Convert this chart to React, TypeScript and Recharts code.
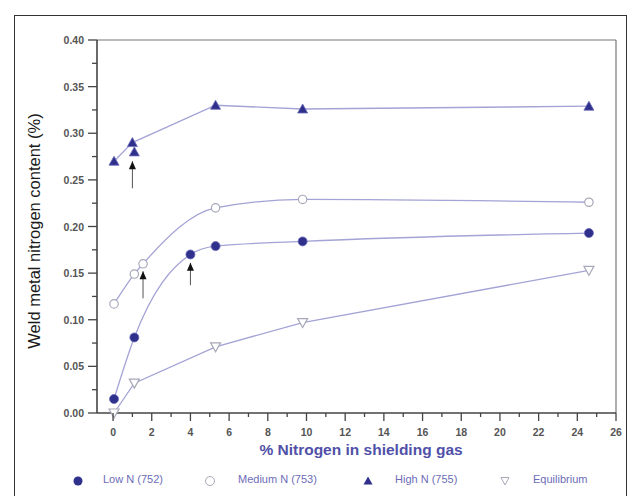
import React from "react";
import {
  ComposedChart,
  Line,
  Scatter,
  XAxis,
  YAxis,
  ReferenceLine,
} from "recharts";

// ---- data ----
const lowN = [
  { x: 0.05, y: 0.015 },
  { x: 1.1, y: 0.081 },
  { x: 4.0, y: 0.17 },
  { x: 5.3, y: 0.179 },
  { x: 9.8, y: 0.184 },
  { x: 24.6, y: 0.193 },
];
const mediumN = [
  { x: 0.05, y: 0.117 },
  { x: 1.1, y: 0.149 },
  { x: 1.55, y: 0.16 },
  { x: 5.3, y: 0.22 },
  { x: 9.8, y: 0.229 },
  { x: 24.6, y: 0.226 },
];
const highN = [
  { x: 0.05, y: 0.27 },
  { x: 1.0, y: 0.29 },
  { x: 5.3, y: 0.33 },
  { x: 9.8, y: 0.326 },
  { x: 24.6, y: 0.329 },
];
const highNExtra = [{ x: 1.1, y: 0.28 }];
const equilibrium = [
  { x: 0.05, y: 0.0 },
  { x: 1.1, y: 0.032 },
  { x: 5.3, y: 0.071 },
  { x: 9.8, y: 0.097 },
  { x: 24.6, y: 0.153 },
];
// arrows: x, tip (head) y, tail y
const arrows = [
  { x: 1.0, tip: 0.27, tail: 0.241 },
  { x: 1.55, tip: 0.152, tail: 0.123 },
  { x: 4.0, tip: 0.161, tail: 0.137 },
];
const arrowHeads = arrows.map((a) => ({ x: a.x, y: a.tip }));

const xTicks = [0, 1, 2, 3, 4, 5, 6, 7, 8, 9, 10, 11, 12, 13, 14, 15, 16, 17, 18, 19, 20, 21, 22, 23, 24, 25, 26];
const yTicks = [0, 0.025, 0.05, 0.075, 0.1, 0.125, 0.15, 0.175, 0.2, 0.225, 0.25, 0.275, 0.3, 0.325, 0.35, 0.375, 0.4];

const legendItems = [
  { name: "Low N (752)", shape: "circleFilled" },
  { name: "Medium N (753)", shape: "circleOpen" },
  { name: "High N (755)", shape: "triUp" },
  { name: "Equilibrium", shape: "triDown" },
];

// ---- styles ----
const LINE = "#a3a3d6";
const NAVY = "#2f2f8c";
const OPEN = "#a8a8b8";
const FONT = "'Liberation Sans', Arial, sans-serif";

const FilledCircle = (p: any) =>
  p.cx == null ? <g /> : <circle cx={p.cx} cy={p.cy} r={4.5} fill={NAVY} stroke="#6a6ab8" strokeWidth={0.8} />;
const OpenCircle = (p: any) =>
  p.cx == null ? <g /> : <circle cx={p.cx} cy={p.cy} r={4.2} fill="#fff" stroke={OPEN} strokeWidth={1.2} />;
const TriUp = (p: any) =>
  p.cx == null ? (
    <g />
  ) : (
    <path d={`M${p.cx},${p.cy - 5} L${p.cx + 5},${p.cy + 4} L${p.cx - 5},${p.cy + 4} Z`} fill={NAVY} stroke="#6a6ab8" strokeWidth={0.8} />
  );
const TriDown = (p: any) =>
  p.cx == null ? (
    <g />
  ) : (
    <path d={`M${p.cx - 5},${p.cy - 4} L${p.cx + 5},${p.cy - 4} L${p.cx},${p.cy + 5} Z`} fill="#fff" stroke={OPEN} strokeWidth={1.2} />
  );
const ArrowHead = (p: any) =>
  p.cx == null ? (
    <g />
  ) : (
    <path d={`M${p.cx},${p.cy} L${p.cx + 3.5},${p.cy + 8} L${p.cx - 3.5},${p.cy + 8} Z`} fill="#111" />
  );

const XTick = (p: any) => {
  const v = p.payload.value;
  const major = v % 2 === 0;
  return (
    <g>
      <line x1={p.x} x2={p.x} y1={p.y} y2={p.y + (major ? 8 : 4)} stroke="#444" strokeWidth={1.3} />
      {major && (
        <text x={p.x} y={p.y + 23} textAnchor="middle" fontSize={10.5} fontWeight="bold" fill="#555" fontFamily={FONT}>
          {v}
        </text>
      )}
    </g>
  );
};

const YTick = (p: any) => {
  const v = p.payload.value;
  const major = Math.abs(Math.round(v * 1000) % 50) === 0;
  return (
    <g>
      <line x1={p.x} x2={p.x - (major ? 9 : 5)} y1={p.y} y2={p.y} stroke="#444" strokeWidth={1.3} />
      {major && (
        <text x={p.x - 13} y={p.y + 4} textAnchor="end" fontSize={10.5} fontWeight="bold" fill="#555" fontFamily={FONT}>
          {v.toFixed(2)}
        </text>
      )}
    </g>
  );
};

const LegendIcon = ({ shape }: { shape: string }) => (
  <svg width={12} height={12} style={{ overflow: "visible", display: "block" }}>
    {shape === "circleFilled" && <circle cx={6} cy={6} r={4.5} fill={NAVY} />}
    {shape === "circleOpen" && <circle cx={6} cy={6} r={4.5} fill="#fff" stroke={OPEN} strokeWidth={1} />}
    {shape === "triUp" && <path d="M6,1.5 L10.5,9.5 L1.5,9.5 Z" fill={NAVY} />}
    {shape === "triDown" && <path d="M2,2.5 L10,2.5 L6,10 Z" fill="#fff" stroke={OPEN} strokeWidth={1} />}
  </svg>
);

const legendPos = [
  { icon: 72, text: 103 },
  { icon: 204, text: 238 },
  { icon: 362, text: 395 },
  { icon: 499, text: 533 },
];

export default function App() {
  return (
    <div style={{ position: "absolute", left: 0, top: 0, width: 633, height: 496, background: "#fff", overflow: "hidden" }}>
      <div
        style={{
          position: "absolute",
          left: 14,
          top: 15,
          width: 613,
          height: 500,
          border: "1.5px solid #333",
          boxSizing: "border-box",
        }}
      />
      <div style={{ position: "absolute", left: 0, top: 0 }}>
        <ComposedChart width={633} height={496} margin={{ top: 40, right: 17, bottom: 0, left: 0 }}>
          <XAxis
            dataKey="x"
            type="number"
            domain={[-0.83, 26]}
            allowDataOverflow
            ticks={xTicks}
            interval={0}
            tickLine={false}
            tickSize={0}
            tickMargin={0}
            tick={<XTick />}
            axisLine={{ stroke: "#444", strokeWidth: 1.6 }}
            height={83}
            label={{
              content: () => (
                <text x={361} y={455} textAnchor="middle" fontSize={15.5} fontWeight="bold" fill="#5050a8" fontFamily={FONT}>
                  % Nitrogen in shielding gas
                </text>
              ),
            }}
          />
          <YAxis
            dataKey="y"
            type="number"
            domain={[0, 0.4]}
            ticks={yTicks}
            interval={0}
            tickLine={false}
            tickSize={0}
            tickMargin={0}
            tick={<YTick />}
            axisLine={{ stroke: "#444", strokeWidth: 1.6 }}
            width={97}
            label={{
              content: () => (
                <text
                  x={40}
                  y={231}
                  transform="rotate(-90 40 231)"
                  textAnchor="middle"
                  fontSize={16.5}
                  fill="#1a1a1a"
                  fontFamily={FONT}
                >
                  Weld metal nitrogen content (%)
                </text>
              ),
            }}
          />
          <ReferenceLine y={0.4} stroke="#777" strokeWidth={1.2} />
          <ReferenceLine x={26} stroke="#777" strokeWidth={1.2} />
          {arrows.map((a, i) => (
            <ReferenceLine
              key={i}
              segment={[
                { x: a.x, y: a.tail },
                { x: a.x, y: a.tip },
              ]}
              stroke="#555"
              strokeWidth={1}
            />
          ))}
          <Line data={equilibrium} dataKey="y" type="linear" stroke={LINE} strokeWidth={1.3} dot={<TriDown />} isAnimationActive={false} legendType="none" />
          <Line data={lowN} dataKey="y" type="monotone" stroke={LINE} strokeWidth={1.3} dot={<FilledCircle />} isAnimationActive={false} legendType="none" />
          <Line data={mediumN} dataKey="y" type="monotone" stroke={LINE} strokeWidth={1.3} dot={<OpenCircle />} isAnimationActive={false} legendType="none" />
          <Line data={highN} dataKey="y" type="linear" stroke={LINE} strokeWidth={1.3} dot={<TriUp />} isAnimationActive={false} legendType="none" />
          <Scatter data={highNExtra} dataKey="y" shape={<TriUp />} isAnimationActive={false} legendType="none" />
          <Scatter data={arrowHeads} dataKey="y" shape={<ArrowHead />} isAnimationActive={false} legendType="none" />
        </ComposedChart>
      </div>
      <div style={{ position: "absolute", left: 0, top: 473, width: 633, height: 20, fontFamily: FONT }}>
        {legendItems.map((it, i) => (
          <React.Fragment key={it.name}>
            <div style={{ position: "absolute", left: legendPos[i].icon, top: 2 }}>
              <LegendIcon shape={it.shape} />
            </div>
            <div style={{ position: "absolute", left: legendPos[i].text, top: 0, fontSize: 11, color: "#6c6cb8", whiteSpace: "nowrap" }}>
              {it.name}
            </div>
          </React.Fragment>
        ))}
      </div>
    </div>
  );
}
